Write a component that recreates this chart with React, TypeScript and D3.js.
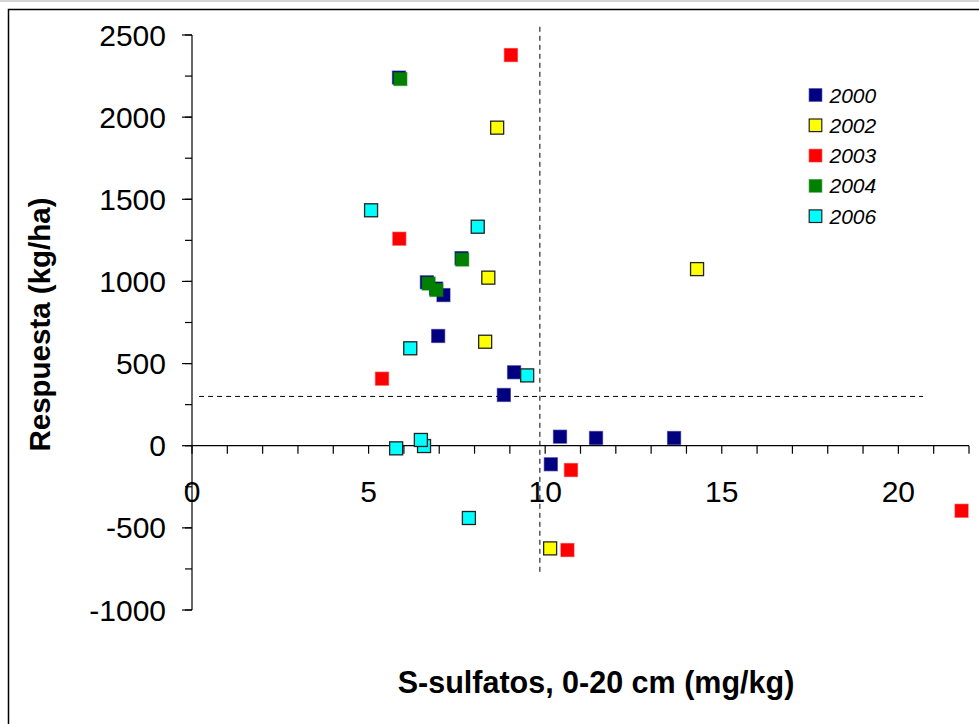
import React from "react";
import * as d3 from "d3";

// years in legend order
const years = ["2000", "2002", "2003", "2004", "2006"];
const colors = ["#000080", "#ffff00", "#ff0000", "#008000", "#00ffff"];
const outlined = [false, true, false, false, true];

// [S-sulfatos mg/kg, respuesta kg/ha]
const pts2000 = [
  [5.86, 2241], [6.65, 995], [6.91, 957], [7.12, 917], [7.63, 1142],
  [6.97, 668], [9.12, 447], [8.83, 309], [10.42, 55], [11.44, 47],
  [13.65, 47], [10.16, -113],
];
const pts2002 = [[8.64, 1936], [8.39, 1023], [8.3, 633], [14.3, 1075], [10.14, -625]];
const pts2003 = [[9.03, 2378], [5.87, 1260], [5.38, 408], [10.73, -148], [10.63, -635], [21.79, -396]];
const pts2004 = [[5.9, 2232], [7.65, 1133], [6.7, 987], [6.92, 948]];
const pts2006 = [
  [5.07, 1433], [8.09, 1333], [6.18, 593], [9.49, 428], [5.78, -16],
  [6.57, -2], [6.48, 35], [7.84, -440],
];
const series = [pts2000, pts2002, pts2003, pts2004, pts2006];

const xTicks = d3.range(0, 23, 1);
const xLabels = [0, 5, 10, 15, 20];
const yMajor = [-1000, -500, 0, 500, 1000, 1500, 2000, 2500];
const yMinor = d3.range(-1000, 2501, 250);

// reference lines
const yRef = 300;
const xRef = 9.85;

const W = 979;
const H = 724;
const font = "'Liberation Sans', Arial, sans-serif";

export default function App() {
  const x = d3.scaleLinear().domain([0, 22]).range([192, 969]);
  const y = d3.scaleLinear().domain([-1000, 2500]).range([610, 35]);
  const ms = 13;

  return (
    <svg
      width={W}
      height={H}
      style={{ position: "absolute", left: 0, top: 0, background: "#fff" }}
      fontFamily={font}
    >
      <line x1={0} x2={W} y1={1} y2={1} stroke="#aaa" strokeWidth={1} />
      <path d={`M8.5,${H + 5}V9.5H${W + 5}`} fill="none" stroke="#000" strokeWidth={1.5} />

      {/* y axis */}
      <line x1={x(0)} x2={x(0)} y1={y(2500)} y2={y(-1000)} stroke="#000" strokeWidth={1.2} />
      {yMinor.map((v) => (
        <line key={"mi" + v} x1={x(0) - 7} x2={x(0)} y1={y(v)} y2={y(v)} stroke="#000" strokeWidth={1.2} />
      ))}
      {yMajor.map((v) => (
        <g key={"ma" + v}>
          <line x1={x(0) - 10} x2={x(0)} y1={y(v)} y2={y(v)} stroke="#000" strokeWidth={1.2} />
          <text x={x(0) - 26} y={y(v)} dy="0.35em" textAnchor="end" fontSize={30}>
            {v}
          </text>
        </g>
      ))}

      {/* x axis at y = 0 */}
      <line x1={x(0)} x2={x(22)} y1={y(0)} y2={y(0)} stroke="#000" strokeWidth={1.2} />
      {xTicks.map((v) => (
        <line key={"xt" + v} x1={x(v)} x2={x(v)} y1={y(0)} y2={y(0) + 8} stroke="#000" strokeWidth={1.2} />
      ))}
      {xLabels.map((v) => (
        <text key={"xl" + v} x={x(v)} y={y(0) + 56} textAnchor="middle" fontSize={30}>
          {v}
        </text>
      ))}

      {/* dashed reference lines */}
      <line x1={x(0.2)} x2={x(20.7)} y1={y(yRef)} y2={y(yRef)} stroke="#000" strokeWidth={1} strokeDasharray="5,4" />
      <line x1={x(xRef)} x2={x(xRef)} y1={y(2550)} y2={y(-780)} stroke="#000" strokeWidth={1} strokeDasharray="5,4" />

      {/* points */}
      {series.map((pts, i) =>
        pts.map((p, j) => (
          <rect
            key={years[i] + "-" + j}
            x={x(p[0]) - ms / 2}
            y={y(p[1]) - ms / 2}
            width={ms}
            height={ms}
            fill={colors[i]}
            stroke={outlined[i] ? "#222" : colors[i]}
            strokeOpacity={outlined[i] ? 1 : 0.5}
            strokeWidth={1.3}
          />
        ))
      )}

      {/* legend */}
      {years.map((yr, i) => (
        <g key={"lg" + yr} transform={`translate(815.5,${95 + i * 30.3})`}>
          <rect
            x={-6.3}
            y={-6.3}
            width={12.6}
            height={12.6}
            fill={colors[i]}
            stroke={outlined[i] ? "#222" : colors[i]}
            strokeOpacity={outlined[i] ? 1 : 0.5}
            strokeWidth={1.2}
          />
          <text x={14} y={0} dy="0.36em" fontSize={21} fontStyle="italic">
            {yr}
          </text>
        </g>
      ))}

      {/* axis titles */}
      <text
        transform={`translate(50,${(y(1500) + y(0)) / 2 + 2}) rotate(-90)`}
        textAnchor="middle"
        fontSize={29.5}
        fontWeight="bold"
      >
        Respuesta (kg/ha)
      </text>
      <text x={596} y={693} textAnchor="middle" fontSize={30.5} fontWeight="bold">
        S-sulfatos, 0-20 cm (mg/kg)
      </text>
    </svg>
  );
}
